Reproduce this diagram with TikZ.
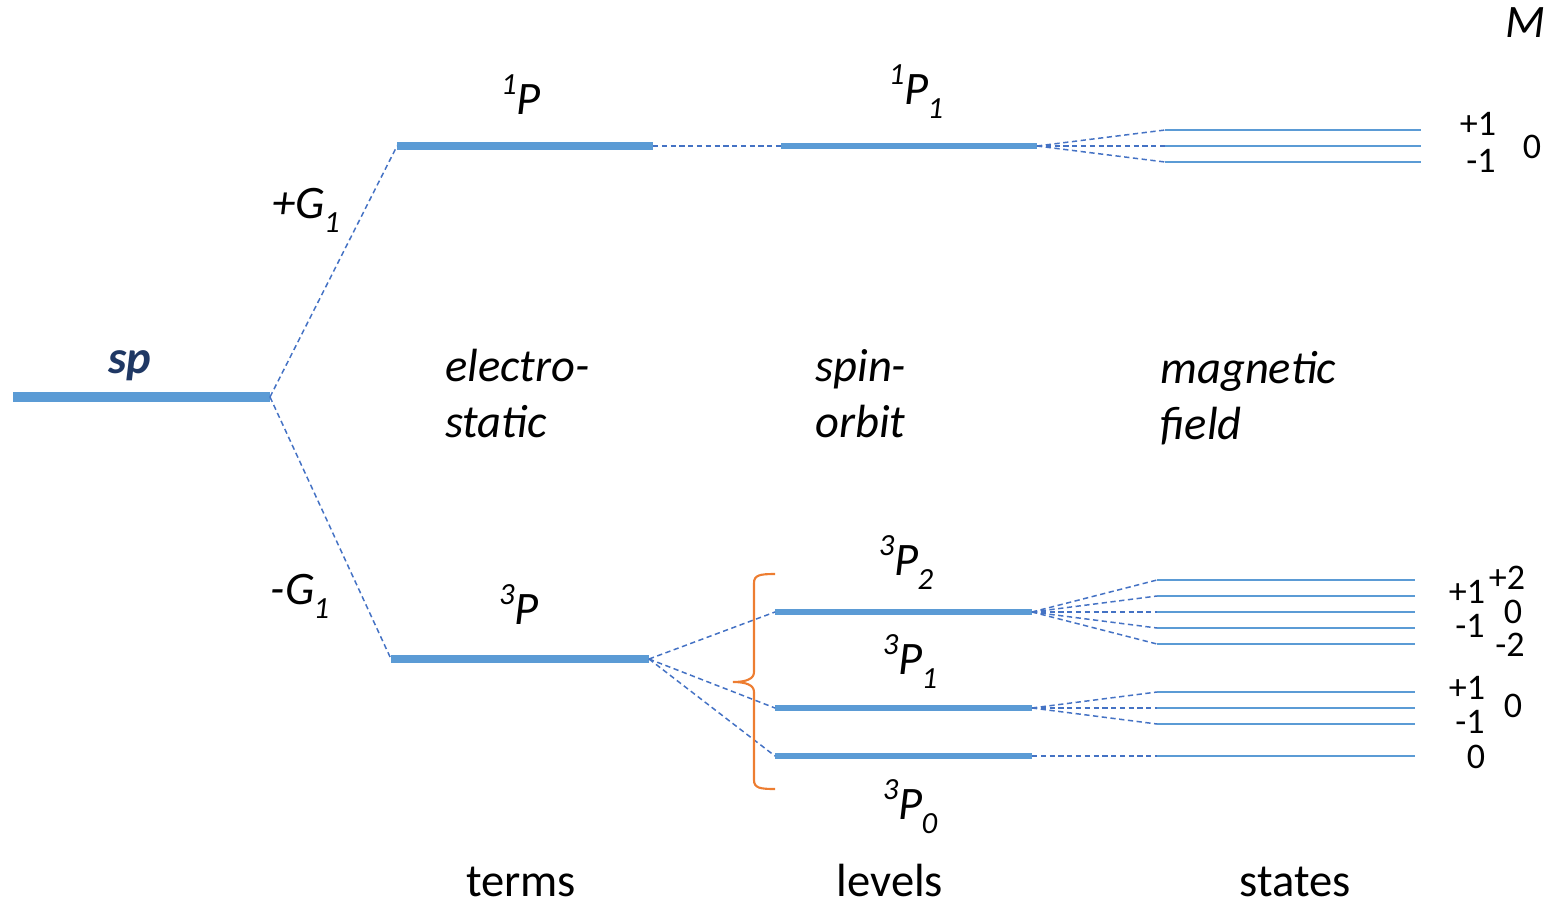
\documentclass[tikz,border=0pt]{standalone}
\usepackage{fontspec}
\setmainfont{Carlito}
\definecolor{lineblue}{HTML}{5B9BD5}
\definecolor{dashblue}{HTML}{4472C4}
\definecolor{navy}{HTML}{1F3864}
\definecolor{braceorange}{HTML}{ED7D31}
\newcommand\supr[1]{\raisebox{0.42em}{\fontsize{17.5}{17.5}\selectfont #1}}
\newcommand\subr[1]{\kern-0.02em\raisebox{-0.32em}{\fontsize{17.5}{17.5}\selectfont #1}}
\begin{document}
\begin{tikzpicture}[x=0.02cm,y=-0.02cm,
 big/.style={font=\fontsize{26.5}{32}\selectfont, inner sep=0, anchor=base},
 lab/.style={font=\fontsize{26.5}{32}\selectfont\itshape, inner sep=0, anchor=base},
 side/.style={font=\fontsize{26.5}{32}\selectfont\itshape, inner sep=0, anchor=base west},
 mnum/.style={font=\fontsize{20.5}{24}\selectfont, inner sep=0, anchor=base},
 cfg/.style={line width=6pt, lineblue},
 term/.style={line width=4pt, lineblue},
 level/.style={line width=3.4pt, lineblue},
 state/.style={line width=1.4pt, lineblue},
 conn/.style={dashblue, line width=0.85pt, dash pattern=on 3pt off 2pt},
 bracepath/.style={braceorange, line width=1.2pt}]
\useasboundingbox (0,0) rectangle (1549,907);

% configuration
\coordinate (spL) at (13,397); \coordinate (spR) at (270,397);
\draw[cfg] (spL) -- (spR);
\node[lab, font=\fontsize{26.5}{32}\selectfont\bfseries\itshape, text=navy] (sp) at (130,373) {sp};

% terms
\coordinate (PaL) at (397,146); \coordinate (PaR) at (653,146);
\coordinate (PcL) at (391,659); \coordinate (PcR) at (649,659);
\draw[term] (PaL) -- (PaR);
\draw[term] (PcL) -- (PcR);
\draw[conn] (spR) -- (PaL);
\draw[conn] (spR) -- (PcL);
\node[lab] (t1P) at (521,114) {\supr{1}P};
\node[lab] (t3P) at (519,624) {\supr{3}P};
\node[lab] (gp) at (306,218) {+G\subr{1}};
\node[lab] (gm) at (300,604) {-G\subr{1}};

% levels
\coordinate (L1L) at (781,146); \coordinate (L1R) at (1037,146);
\coordinate (L2L) at (775,612); \coordinate (L2R) at (1032,612);
\coordinate (L3L) at (775,708); \coordinate (L3R) at (1032,708);
\coordinate (L4L) at (775,756); \coordinate (L4R) at (1032,756);
\foreach \l in {L1,L2,L3,L4} \draw[level] (\l L) -- (\l R);
\draw[conn] (PaR) -- (L1L);
\draw[conn] (PcR) -- (L2L);
\draw[conn] (PcR) -- (L3L);
\draw[conn] (PcR) -- (L4L);
\node[lab] (l1P1) at (916,104) {\supr{1}P\subr{1}};
\node[lab] (l3P2) at (906,575) {\supr{3}P\subr{2}};
\node[lab] (l3P1) at (910,674) {\supr{3}P\subr{1}};
\node[lab] (l3P0) at (910,819) {\supr{3}P\subr{0}};

% brace
\coordinate (brT) at (775,574); \coordinate (brM) at (733,682); \coordinate (brB) at (775,789);
\draw[bracepath] (brT) .. controls (760,574) and (754,575) .. (754,583) -- (754,672)
  .. controls (754,679) and (746,682) .. (brM)
  .. controls (746,682) and (754,685) .. (754,692) -- (754,780)
  .. controls (754,788) and (760,789) .. (brB);

% states
\foreach \y [count=\i] in {130,146,162} {
  \coordinate (a\i L) at (1165,\y); \coordinate (a\i R) at (1421,\y);
  \draw[state] (a\i L) -- (a\i R);
  \draw[conn] (L1R) -- (a\i L);
}
\foreach \y [count=\i] in {580,596,612,628,644} {
  \coordinate (b\i L) at (1157,\y); \coordinate (b\i R) at (1415,\y);
  \draw[state] (b\i L) -- (b\i R);
  \draw[conn] (L2R) -- (b\i L);
}
\foreach \y [count=\i] in {692,708,724} {
  \coordinate (c\i L) at (1157,\y); \coordinate (c\i R) at (1415,\y);
  \draw[state] (c\i L) -- (c\i R);
  \draw[conn] (L3R) -- (c\i L);
}
\coordinate (d1L) at (1157,756); \coordinate (d1R) at (1415,756);
\draw[state] (d1L) -- (d1R);
\draw[conn] (L4R) -- (d1L);

% M labels
\node[lab] (M) at (1525,37) {M};
\node[mnum] (ma1) at (1478,135) {+1};
\node[mnum] (ma2) at (1532,158) {0};
\node[mnum] (ma3) at (1481,172) {-1};
\node[mnum] (mb1) at (1507,589) {+2};
\node[mnum] (mb2) at (1467,603) {+1};
\node[mnum] (mb3) at (1513,623) {0};
\node[mnum] (mb4) at (1470,637) {-1};
\node[mnum] (mb5) at (1510,656) {-2};
\node[mnum] (mc1) at (1467,699) {+1};
\node[mnum] (mc2) at (1513,717) {0};
\node[mnum] (mc3) at (1470,733) {-1};
\node[mnum] (md1) at (1476,768) {0};

% side texts
\node[side] (es1) at (445,381) {electro-};
\node[side] (es2) at (445,437) {static};
\node[side] (so1) at (815,381) {spin-};
\node[side] (so2) at (815,437) {orbit};
\node[side] (mf1) at (1160,383) {magnetic};
\node[side] (mf2) at (1160,439) {field};

% bottom
\node[big] (terms) at (521,896) {terms};
\node[big] (levels) at (890,896) {levels};
\node[big] (states) at (1295,896) {states};
\end{tikzpicture}
\end{document}
